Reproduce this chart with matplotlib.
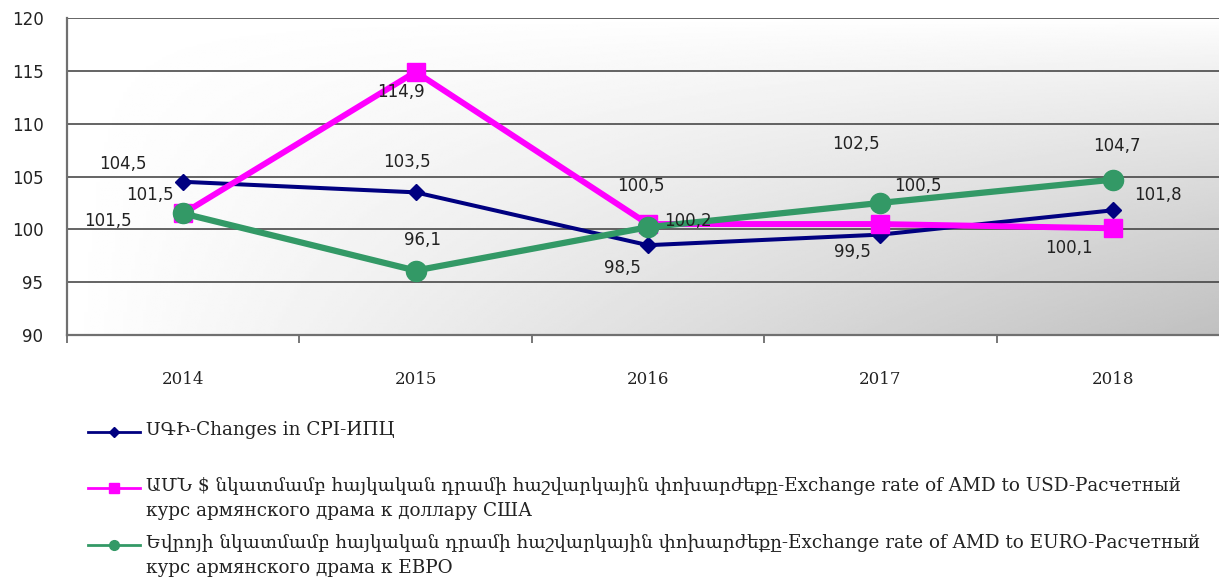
import numpy as np
import matplotlib
matplotlib.use("Agg")
import matplotlib.pyplot as plt
from matplotlib.lines import Line2D

# data
years = ["2014", "2015", "2016", "2017", "2018"]
cpi = [104.5, 103.5, 98.5, 99.5, 101.8]
usd = [101.5, 114.9, 100.5, 100.5, 100.1]
eur = [101.5, 96.1, 100.2, 102.5, 104.7]

labels = [
    "ՍԳԻ-Changes in CPI-ИПЦ",
    "ԱՄՆ $ նկատմամբ հայկական դրամի հաշվարկային փոխարժեքը-Exchange rate of AMD to USD-Расчетный\n"
    "курс армянского драма к доллару США",
    "Եվրոյի նկատմամբ հայկական դրամի հաշվարկային փոխարժեքը-Exchange rate of AMD to EURO-Расчетный\n"
    "курс армянского драма к ЕВРО",
]

# label offsets in pixels (dx, dy up) for each point
cpi_off = [(-60, 18), (-9, 30), (-26, -23), (-28, -17), (45, 15)]
usd_off = [(-33, 18), (-15, -20), (-7, 38), (37, 38), (-44, -20)]
eur_off = [(-75, -8), (7, 31), (40, 6), (-24, 59), (4, 34)]

num_font = "DejaVu Sans"
text_font = ["DejaVu Serif", "DejaVu Sans"]

fig = plt.figure(figsize=(12.19, 5.8), dpi=100)
ax = fig.add_axes([67 / 1219, 245 / 580, 1162 / 1219, 317 / 580])

# gradient background: white top-left to grey bottom-right
gx, gy = np.meshgrid(np.linspace(0, 1, 300), np.linspace(0, 1, 200))
grad = 1 - (63 / 255) * gx * gy ** 0.8
ax.imshow(grad, extent=[0, 1, 0, 1], transform=ax.transAxes, aspect="auto",
          cmap="gray", vmin=0, vmax=1, zorder=0, interpolation="bilinear")

x = np.arange(len(years))
series = [
    (cpi, "#000080", "D", 8, 2.9, cpi_off, 3),
    (usd, "#FF00FF", "s", 13.5, 4.3, usd_off, 4),
    (eur, "#339966", "o", 14.5, 4.5, eur_off, 5),
]
for vals, col, mk, ms, lw, offs, z in series:
    ax.plot(x, vals, color=col, marker=mk, markersize=ms, linewidth=lw,
            zorder=z, solid_joinstyle="miter")
    for xi, v, (dx, dy) in zip(x, vals, offs):
        ax.annotate(f"{v:.1f}".replace(".", ","), (xi, v), xytext=(dx, dy),
                    textcoords="offset pixels", ha="center", va="center",
                    fontsize=12, family=num_font, color="#222222", zorder=6)

ax.set_xlim(-0.5, 4.5)
ax.set_ylim(90, 120)
ax.set_yticks(np.arange(90, 121, 5))
ax.yaxis.grid(True, color="#3a3a3a", linewidth=1.1)
ax.set_axisbelow(True)
ax.tick_params(axis="y", length=0, pad=17, labelsize=12, labelcolor="#222222")
for t in ax.get_yticklabels():
    t.set_family(num_font)

ax.set_xticks(np.arange(-0.5, 5, 1))
ax.set_xticklabels([])
ax.set_xticks(x, minor=True)
ax.set_xticklabels(years, minor=True, fontsize=12, family=text_font, color="#222222")
ax.tick_params(axis="x", which="major", length=6, width=1.2, color="#606060", direction="out")
ax.tick_params(axis="x", which="minor", length=0, pad=26)

for s in ["top", "right"]:
    ax.spines[s].set_visible(False)
for s in ["left", "bottom"]:
    ax.spines[s].set_color("#707070")
    ax.spines[s].set_linewidth(1.6)

# legend drawn below the plot
legend_items = [("#000080", "D", 5), ("#FF00FF", "s", 7), ("#339966", "o", 7)]
legend_y = [432, 488, 545]
for (col, mk, ms), lab, yy in zip(legend_items, labels, legend_y):
    yf = 1 - yy / 580
    fig.add_artist(Line2D([88 / 1219, 140 / 1219], [yf, yf], transform=fig.transFigure,
                          color=col, linewidth=2))
    fig.add_artist(Line2D([114 / 1219], [yf], transform=fig.transFigure, color=col,
                          marker=mk, markersize=ms, linestyle="none"))
    fig.text(146 / 1219, yf + 11 / 580, lab, ha="left", va="top", fontsize=13.2,
             family=text_font, color="#222222", linespacing=1.5)

fig.savefig("out.png", dpi=100)
